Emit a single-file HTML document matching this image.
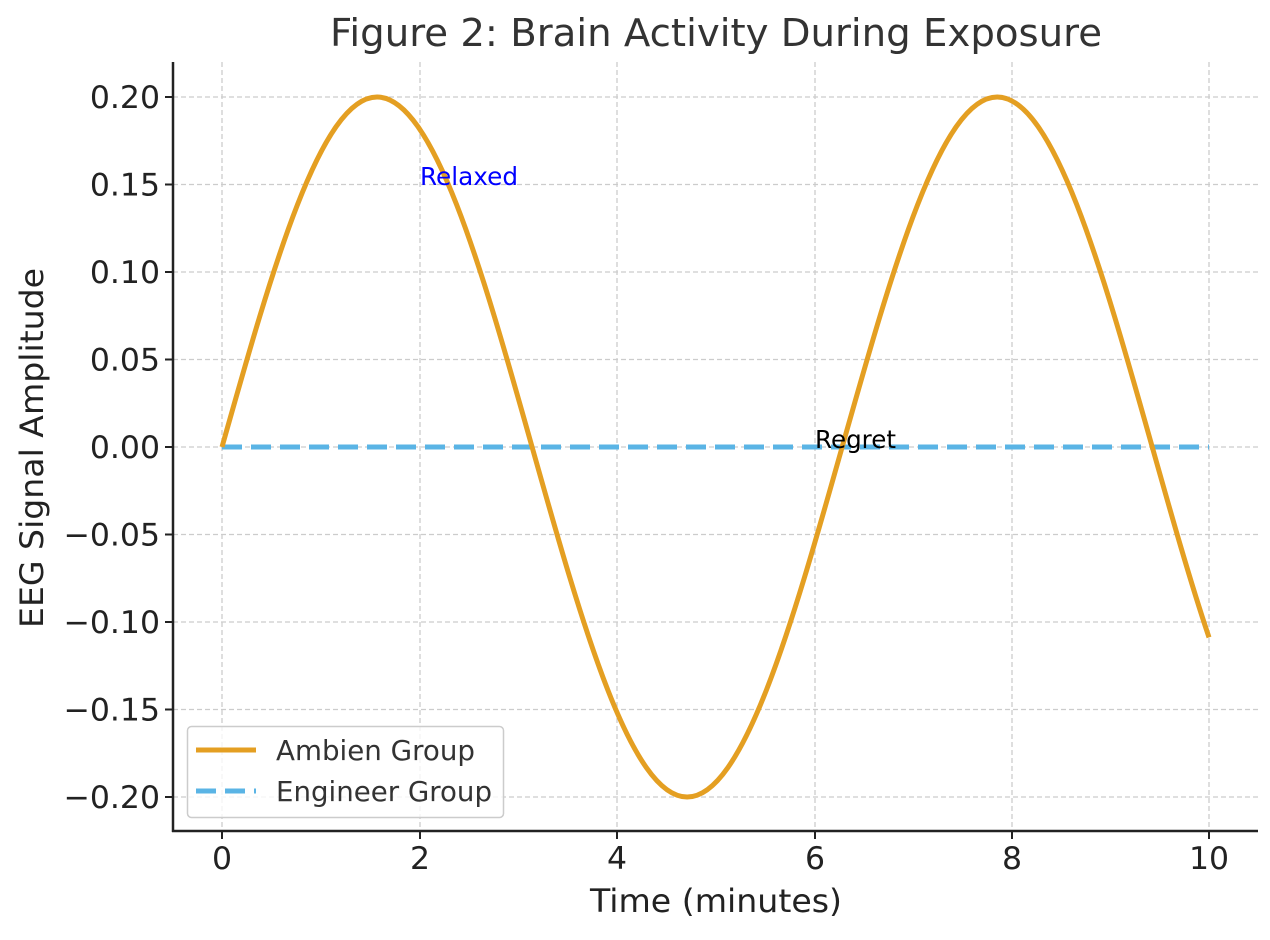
<!DOCTYPE html>
<html><head><meta charset="utf-8"><style>
html,body{margin:0;padding:0;background:#fff;}
text{font-family:"DejaVu Sans","Liberation Sans",sans-serif;}
</style></head><body>
<svg width="1270" height="935" viewBox="0 0 1270 935" xmlns="http://www.w3.org/2000/svg">
<rect width="1270" height="935" fill="#fff"/>
<g stroke="#cccccc" stroke-width="1.3" stroke-dasharray="5,3">
<line x1="222" y1="62" x2="222" y2="831"/><line x1="420" y1="62" x2="420" y2="831"/><line x1="617" y1="62" x2="617" y2="831"/><line x1="815" y1="62" x2="815" y2="831"/><line x1="1012" y1="62" x2="1012" y2="831"/><line x1="1209" y1="62" x2="1209" y2="831"/>
<line x1="173" y1="97" x2="1258" y2="97"/><line x1="173" y1="184.5" x2="1258" y2="184.5"/><line x1="173" y1="272" x2="1258" y2="272"/><line x1="173" y1="359.5" x2="1258" y2="359.5"/><line x1="173" y1="447" x2="1258" y2="447"/><line x1="173" y1="534.5" x2="1258" y2="534.5"/><line x1="173" y1="622" x2="1258" y2="622"/><line x1="173" y1="709.5" x2="1258" y2="709.5"/><line x1="173" y1="797" x2="1258" y2="797"/>
</g>
<line x1="222" y1="447" x2="1209" y2="447" stroke="#5ab4e5" stroke-width="5" stroke-dasharray="20,9"/>
<path d="M222,447 C272.56,267.7 320.93,97 377.04,97 C433.15,97 481.52,267.7 532.08,447 C582.64,626.3 631.01,797 687.12,797 C743.23,797 791.6,626.3 842.16,447 C892.72,267.7 941.09,97 997.2,97 C1053.31,97 1101.68,267.7 1152.24,447 C1171.16,514.1 1190.08,581.1 1209,637.4" fill="none" stroke="#e49f22" stroke-width="5"/>
<text x="420" y="185" font-size="25" fill="#0000ff" textLength="98" lengthAdjust="spacingAndGlyphs">Relaxed</text>
<text x="815" y="448" font-size="24.5" fill="#000" textLength="81" lengthAdjust="spacingAndGlyphs">Regret</text>
<g stroke="#222" stroke-width="2.5" fill="none">
<line x1="173" y1="62" x2="173" y2="832"/><line x1="172" y1="831" x2="1258" y2="831"/>
</g>
<g stroke="#222" stroke-width="2">
<line x1="222" y1="831" x2="222" y2="839"/><line x1="420" y1="831" x2="420" y2="839"/><line x1="617" y1="831" x2="617" y2="839"/><line x1="815" y1="831" x2="815" y2="839"/><line x1="1012" y1="831" x2="1012" y2="839"/><line x1="1209" y1="831" x2="1209" y2="839"/>
<line x1="165" y1="97" x2="173" y2="97"/><line x1="165" y1="184.5" x2="173" y2="184.5"/><line x1="165" y1="272" x2="173" y2="272"/><line x1="165" y1="359.5" x2="173" y2="359.5"/><line x1="165" y1="447" x2="173" y2="447"/><line x1="165" y1="534.5" x2="173" y2="534.5"/><line x1="165" y1="622" x2="173" y2="622"/><line x1="165" y1="709.5" x2="173" y2="709.5"/><line x1="165" y1="797" x2="173" y2="797"/>
</g>
<g font-size="31.5" fill="#222" text-anchor="middle">
<text x="222" y="869">0</text><text x="420" y="869">2</text><text x="617" y="869">4</text><text x="815" y="869">6</text><text x="1012" y="869">8</text><text x="1209" y="869">10</text>
</g>
<g font-size="31.5" fill="#222" text-anchor="end">
<text x="160" y="108">0.20</text><text x="160" y="195.5">0.15</text><text x="160" y="283">0.10</text><text x="160" y="370.5">0.05</text><text x="160" y="458">0.00</text><text x="160" y="545.5">−0.05</text><text x="160" y="633">−0.10</text><text x="160" y="720.5">−0.15</text><text x="160" y="808">−0.20</text>
</g>
<text x="716" y="912" font-size="32" fill="#222" text-anchor="middle" textLength="252" lengthAdjust="spacingAndGlyphs">Time (minutes)</text>
<text transform="translate(43,448) rotate(-90)" font-size="32" fill="#222" text-anchor="middle" textLength="360" lengthAdjust="spacingAndGlyphs">EEG Signal Amplitude</text>
<text x="716" y="46" font-size="38.5" fill="#333" text-anchor="middle" textLength="772" lengthAdjust="spacingAndGlyphs">Figure 2: Brain Activity During Exposure</text>
<rect x="187.5" y="726.5" width="316" height="91" rx="4" fill="#fff" fill-opacity="0.8" stroke="#cccccc" stroke-width="1.5"/>
<line x1="196" y1="750" x2="256" y2="750" stroke="#e49f22" stroke-width="5"/>
<line x1="196" y1="791" x2="256" y2="791" stroke="#5ab4e5" stroke-width="5" stroke-dasharray="20,9"/>
<text x="276" y="760" font-size="27.5" fill="#333" textLength="199" lengthAdjust="spacingAndGlyphs">Ambien Group</text>
<text x="276" y="801" font-size="27.5" fill="#333" textLength="216" lengthAdjust="spacingAndGlyphs">Engineer Group</text>
</svg>
</body></html>
